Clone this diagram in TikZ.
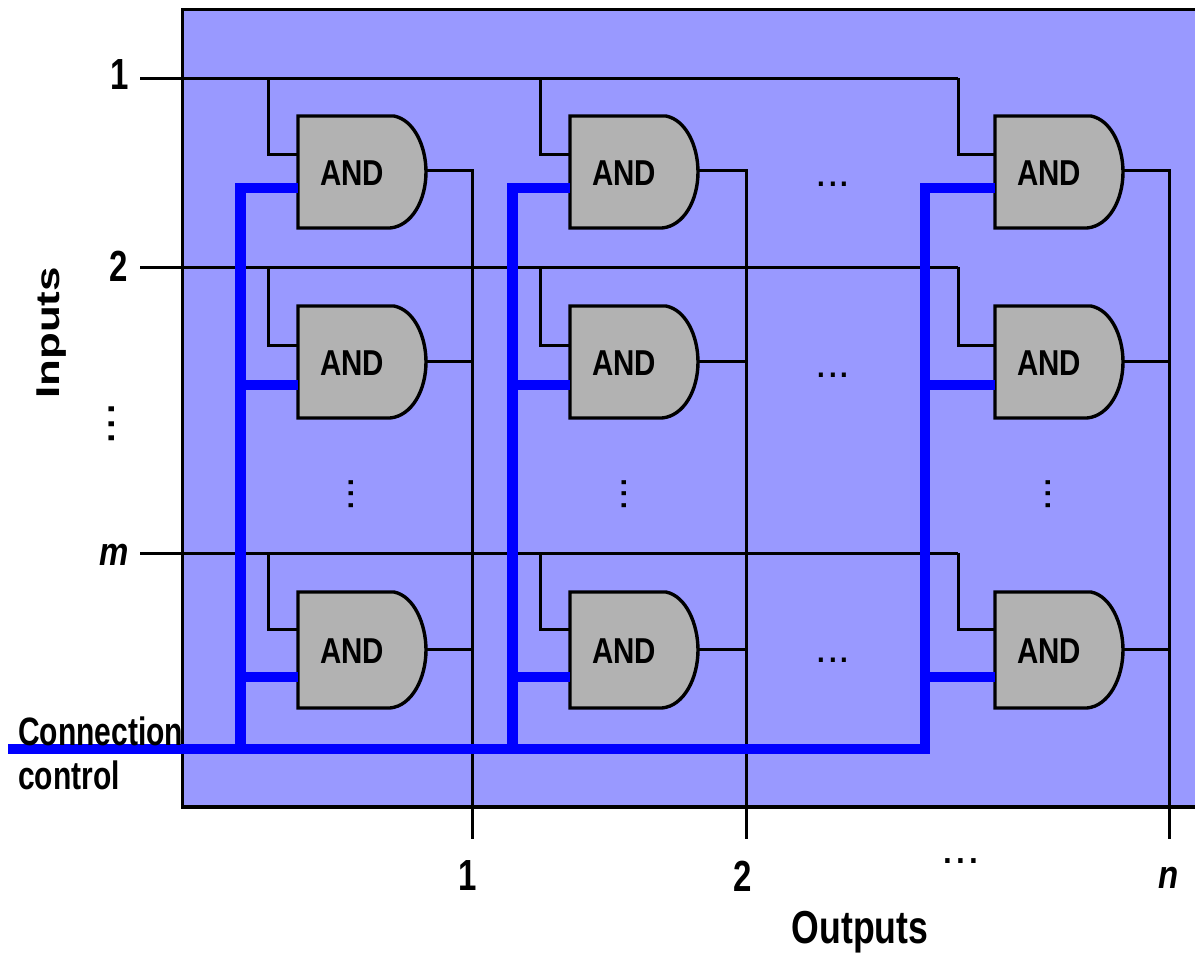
\documentclass[tikz,border=0pt]{standalone}
\usepackage{fontspec}
\usepackage{graphicx}
\setmainfont{Liberation Sans}
\definecolor{panel}{HTML}{9999FF}
\definecolor{gatefill}{HTML}{B2B2B2}
\definecolor{bus}{HTML}{0000FF}
\newcommand{\tallb}[1]{\scalebox{1}[1.32]{\bfseries #1}}
\newcommand{\talli}[1]{\scalebox{1}[1.2]{\bfseries\itshape #1}}
% gate: name, left x, top y, bottom y, control-pin y, data-pin y, output y
\newcommand{\gate}[7]{%
  \path[gateshape] (#2,#3) -- ({#2+96},#3)
     .. controls ({#2+116},{#3+4}) and ({#2+128},{(#3+#4)/2-26}) .. ({#2+128},{(#3+#4)/2})
     .. controls ({#2+128},{(#3+#4)/2+28}) and ({#2+114},{#4-2}) .. ({#2+92},#4) -- (#2,#4) -- cycle;
  \node[gatetext] (#1-t) at ({#2+54},{(#3+#4)/2+1}) {\scalebox{1}[1.22]{\bfseries AND}};
  \coordinate (#1-c) at (#2,#5);
  \coordinate (#1-d) at (#2,#6);
  \coordinate (#1-o) at ({#2+128},#7);
}
\tikzset{
  gateshape/.style={draw=black,fill=gatefill,line width=3.4pt,miter limit=2},
  gatetext/.style={inner sep=0pt,font=\fontsize{29.5}{30}\selectfont},
  wire/.style={draw=black,line width=3pt},
  busline/.style={draw=bus,line width=10.5pt,line join=miter},
  stub/.style={draw=bus,line width=10pt},
  lbl/.style={inner sep=0pt,font=\fontsize{33}{33}\selectfont},
  dotsmall/.style={inner sep=0pt,font=\fontsize{42}{42}\selectfont},
}
\begin{document}
\begin{tikzpicture}[x=1pt,y=-1pt]
\useasboundingbox (0,0) rectangle (1195,954);
\fill[white] (0,0) rectangle (1195,954);
\fill[panel] (182,10) rectangle (1195,807);
\draw[black,line width=3.5pt] (1197,9.5) -- (182.5,9.5) -- (182.5,807) -- (1197,807);

% bus free ends and rails
\coordinate (ctrl) at (8,749);
\coordinate (in1) at (140,78);
\coordinate (in2) at (140,267);
\coordinate (inm) at (140,553);
\coordinate (out1) at (472,839);
\coordinate (out2) at (746,839);
\coordinate (outn) at (1169,839);
\coordinate (bj1) at (240.5,749);
\coordinate (bj2) at (512.5,749);
\coordinate (bj3) at (925,749);
\coordinate (t1) at (268,78);
\coordinate (t2) at (540,78);
\coordinate (t3) at (958,78);
\coordinate (u1) at (268,267);
\coordinate (u2) at (540,267);
\coordinate (u3) at (958,267);
\coordinate (v1) at (268,553);
\coordinate (v2) at (540,553);
\coordinate (v3) at (958,553);

% wires below gates
\draw[wire] (in1) -- (t3);
\draw[wire] (in2) -- (u3);
\draw[wire] (inm) -- (v3);

% gates
\gate{a1}{298}{116}{228}{188}{154}{170}
\gate{a2}{570}{116}{228}{188}{154}{170}
\gate{a3}{995}{116}{228}{188}{154}{170}
\gate{b1}{298}{306}{418}{385}{345}{361}
\gate{b2}{570}{306}{418}{385}{345}{361}
\gate{b3}{995}{306}{418}{385}{345}{361}
\gate{c1}{298}{592}{708}{677}{629}{649}
\gate{c2}{570}{592}{708}{677}{629}{649}
\gate{c3}{995}{592}{708}{677}{629}{649}

% data wires
\foreach \g/\t in {a1/t1,a2/t2,a3/t3,b1/u1,b2/u2,b3/u3,c1/v1,c2/v2,c3/v3}
  \draw[wire] (\t) |- (\g-d);

% output wires
\draw[wire] (a1-o) -| (out1);
\draw[wire] (b1-o) -- (b1-o -| out1);
\draw[wire] (c1-o) -- (c1-o -| out1);
\draw[wire] (a2-o) -| (out2);
\draw[wire] (b2-o) -- (b2-o -| out2);
\draw[wire] (c2-o) -- (c2-o -| out2);
\draw[wire] (a3-o) -| (outn);
\draw[wire] (b3-o) -- (b3-o -| outn);
\draw[wire] (c3-o) -- (c3-o -| outn);

% control buses
\draw[busline] (bj1) |- (a1-c);
\draw[busline] (bj2) |- (a2-c);
\draw[busline] (ctrl) -- (bj3) |- (a3-c);
\draw[stub] (b1-c -| bj1) -- (b1-c);
\draw[stub] (c1-c -| bj1) -- (c1-c);
\draw[stub] (b2-c -| bj2) -- (b2-c);
\draw[stub] (c2-c -| bj2) -- (c2-c);
\draw[stub] (b3-c -| bj3) -- (b3-c);
\draw[stub] (c3-c -| bj3) -- (c3-c);

% labels
\node[lbl] (l1) at (120,75) {\tallb{1}};
\node[lbl] (l2) at (119,266) {\tallb{2}};
\node[lbl] (lm) at (114,555) {\talli{m}};
\node[lbl,rotate=90] (linputs) at (52,333) {\scalebox{1.33}[1]{\bfseries Inputs}};
\node[dotsmall,rotate=90,font=\fontsize{52}{52}\selectfont] (ldots) at (112,424) {...};
\node[lbl,anchor=west,font=\fontsize{30}{30}\selectfont] (lconn) at (18,731) {\tallb{Connection}};
\node[lbl,anchor=west,font=\fontsize{30}{30}\selectfont] (lcontrol) at (18,775) {\tallb{control}};
\node[lbl] (o1) at (468,876) {\tallb{1}};
\node[lbl] (o2) at (743,876) {\tallb{2}};
\node[dotsmall,font=\fontsize{46}{46}\selectfont] (odots) at (961,861) {...};
\node[lbl] (on) at (1169,878) {\talli{n}};
\node[lbl] (loutputs) at (860,932) {\scalebox{1.08}[1.4]{\bfseries Outputs}};
\foreach \n/\x/\y in {h1/833/184,h2/833/375,h3/833/660}
  \node[dotsmall] (\n) at (\x,\y) {...};
\foreach \n/\x in {d1/351,d2/624,d3/1048}
  \node[dotsmall,rotate=90] (\n) at (\x,494) {...};
\end{tikzpicture}
\end{document}
